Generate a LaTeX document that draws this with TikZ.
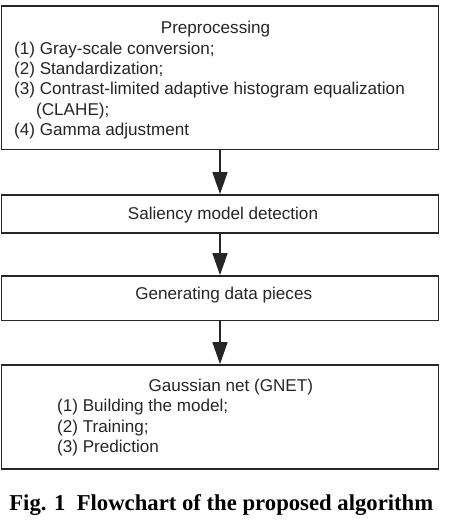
\documentclass[tikz,border=0pt]{standalone}
\usepackage{fontspec}
\setmainfont{Liberation Sans}
\newfontfamily\capfont{Liberation Serif}
\usetikzlibrary{arrows.meta}
\begin{document}
\begin{tikzpicture}[x=1pt,y=1pt,
  box/.style={draw=black!85, line width=1.8pt, rectangle, minimum width=437pt, inner sep=0pt, fill=white},
  txt/.style={inner sep=0pt, font=\fontsize{17.1}{20.3}\selectfont, text=black!85},
  arr/.style={draw=black!85, line width=1.6pt, -{Triangle[length=22pt,width=15pt]}}]
\useasboundingbox (0,0) rectangle (475,-530);
% boxes
\node[box, minimum height=143.5pt] (b1) at (220,-77.75) {};
\node[box, minimum height=38pt] (b2) at (220,-214) {};
\node[box, minimum height=44.5pt] (b3) at (220,-298.25) {};
\node[box, minimum height=104pt] (b4) at (220,-417) {};
% box 1 text
\node[txt] (p0) at (215.5,-29.5) {Preprocessing};
\node[txt, anchor=west] (p1) at (14,-49.8) {(1) Gray-scale conversion;};
\node[txt, anchor=west] (p2) at (14,-70.1) {(2) Standardization;};
\node[txt, anchor=west] (p3) at (14,-90.4) {(3) Contrast-limited adaptive histogram equalization};
\node[txt, anchor=west] (p3b) at (36,-110.7) {(CLAHE);};
\node[txt, anchor=west] (p4) at (14,-131) {(4) Gamma adjustment};
% box 2, 3
\node[txt] (s0) at (223,-215) {Saliency model detection};
\node[txt] (g0) at (223.7,-295) {Generating data pieces};
% box 4
\node[txt] (n0) at (230.8,-387) {Gaussian net (GNET)};
\node[txt, anchor=west] (n1) at (57,-407.5) {(1) Building the model;};
\node[txt, anchor=west] (n2) at (57,-428) {(2) Training;};
\node[txt, anchor=west] (n3) at (57,-448.5) {(3) Prediction};
% arrows
\draw[arr] (b1.south) -- (b2.north);
\draw[arr] (b2.south) -- (b3.north);
\draw[arr] (b3.south) -- (b4.north);
% caption
\node[inner sep=0pt, font=\capfont\bfseries\fontsize{22.7}{26}\selectfont] (cap) at (221.3,-505) {Fig. 1\hspace{0.5em}Flowchart of the proposed algorithm};
\end{tikzpicture}
\end{document}
